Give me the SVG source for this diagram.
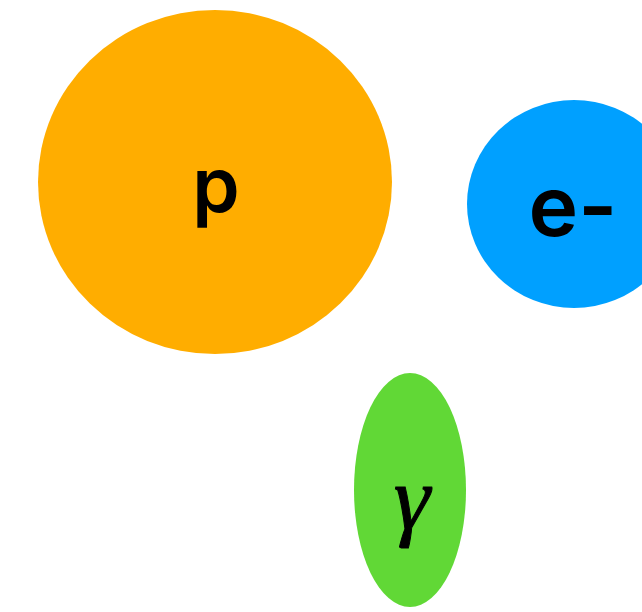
<svg xmlns="http://www.w3.org/2000/svg" width="642" height="612" viewBox="0 0 642 612">
<style>
.lbl{font-family:Inter,"Liberation Sans",Arial,sans-serif;font-weight:600;fill:#000;text-anchor:middle}
.g{font-family:"Liberation Serif","Times New Roman",serif;font-style:italic;fill:#000;text-anchor:middle}
</style>
<rect width="642" height="612" fill="#fff"/>
<g id="node-p">
<ellipse cx="215" cy="182" rx="177" ry="172" fill="#FFAD00"/>
<text class="lbl" x="216" y="212" font-size="76">p</text>
</g>
<g id="node-e">
<ellipse cx="574" cy="204" rx="107" ry="104" fill="#00A0FF"/>
<text class="lbl" x="573" y="236" font-size="84">e-</text>
</g>
<g id="node-gamma">
<ellipse cx="410" cy="490" rx="56" ry="117" fill="#61D836"/>
<text class="g" x="412" y="529" font-size="92" stroke="#000" stroke-width="1">γ</text>
</g>
<g id="connectors"></g>
</svg>
